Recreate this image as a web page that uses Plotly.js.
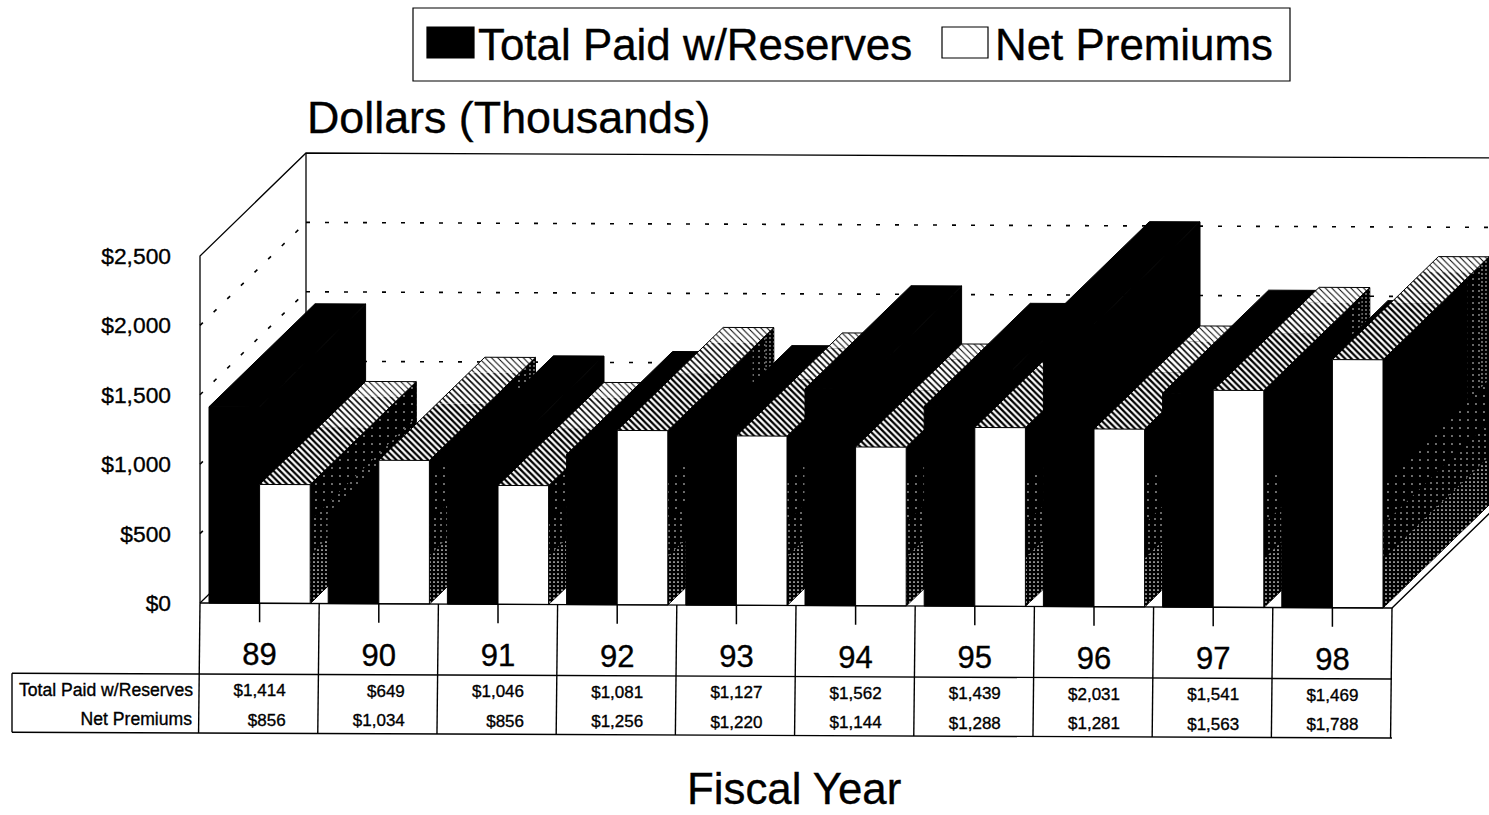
<!DOCTYPE html>
<html>
<head>
<meta charset="utf-8">
<script src="https://cdn.plot.ly/plotly-3.0.1.min.js"></script>
<style>
html,body{margin:0;padding:0;background:#fff;overflow:hidden}
/* slightly heavier lettering, as on a printed page */
.main-svg text{stroke:#000;stroke-width:.35px}
</style>
</head>
<body>
<div id="chart" style="width:1489px;height:815px"></div>
<script>
// Fiscal-year claims and premiums, in thousands of dollars
const fiscalYears = ['89','90','91','92','93','94','95','96','97','98'];
const totalPaid   = [1414,649,1046,1081,1127,1562,1439,2031,1541,1469];
const netPremiums = [856,1034,856,1256,1220,1144,1288,1281,1563,1788];
const yTicks      = [0,500,1000,1500,2000,2500];
const yTickLabels = ['$0','$500','$1,000','$1,500','$2,000','$2,500'];
const gridValues  = [500,1000,1500,2000];
const seriesNames = ['Total Paid w/Reserves','Net Premiums'];

const W = 1489, H = 815, FONT = '"Liberation Sans", Arial, sans-serif';
const ORIGIN_X = 200, ORIGIN_Y = 603;    // screen position of category 0, value 0
const PX_PER_CAT = 119.2, PX_PER_USD = 0.1388;
const DEPTH_X = 106 / PX_PER_CAT;        // oblique shift of the full floor depth
const DEPTH_Y = 103 / PX_PER_USD;
const TILT = 0.5 / PX_PER_USD;           // the base line falls slightly to the right
const BAR_MARGIN = 0.0755, BAR_W = 0.4245;
const TOP = 2500;

const usdFromPx = px => (ORIGIN_Y - px) / PX_PER_USD;
const catFromPx = px => (px - ORIGIN_X) / PX_PER_CAT;

// Oblique projection: category position, height in dollars, depth 0..1
const project = (cat, val, depth) => [cat + depth * DEPTH_X, val + depth * DEPTH_Y - cat * TILT];

const traces = [];
function path(points, width, dash) {
  const xs = [], ys = [];
  points.forEach(p => { if (p) { const q = project(...p); xs.push(q[0]); ys.push(q[1]); } else { xs.push(null); ys.push(null); } });
  traces.push({type:'scatter', mode:'lines', x:xs, y:ys, showlegend:false, hoverinfo:'skip',
    line:{color:'#000', width:width || 1.3, dash:dash || 'solid'}});
}
function face(points, fill, name, outline) {
  const closed = points.concat([points[0]]);
  const xs = [], ys = [];
  closed.forEach(p => { const q = project(...p); xs.push(q[0]); ys.push(q[1]); });
  const t = {type:'scatter', mode:'lines', x:xs, y:ys, fill:'toself', showlegend:false, name:name, hoverinfo:'skip',
    line:{color:'#000', width:outline ? 1 : 0}};
  if (fill.shape) { t.fillpattern = fill; t.fillcolor = fill.bgcolor; }
  else t.fillcolor = fill;
  traces.push(t);
}

// Walls, dotted grid and floor edges
const dots = '4px,15px';
gridValues.forEach(v => {
  path([[0,v,0],[0,v,1]], 1.6, dots);
  path([[0,v,1],[11,v,1]], 1.6, dots);
});
path([[0,0,0],[0,TOP,0],[0,TOP,1],[11,TOP,1]]);
path([[0,TOP,1],[0,0,1]]);
path([[0,0,0],[0,0,1]]);

// Shading tones of the extruded faces
const hatch = s => ({shape:'\\', fgcolor:'#000', bgcolor:'#fff', size:4.5, solidity:s});
const stipple = (size, s) => ({shape:'.', fgcolor:'#fff', bgcolor:'#000', size:size, solidity:s});

// Side face of a white bar: near black, with the stipple fading in towards floor and back edge
function whiteSide(x, v, name) {
  face([[x,0,0],[x,0,1],[x,v,1],[x,v,0]], '#000', name, true);
  const band = (d0, d1, a, b, tone) => face([[x,a,d0],[x,a,d1],[x,b,d1],[x,b,d0]], tone, name, false);
  band(0.8, 1, 0, v, stipple(6, 0.05));
  band(0.92, 1, 0, v, stipple(4, 0.1));
  band(0, 1, 0, Math.min(900, v), stipple(8, 0.03));
  band(0, 1, 0, Math.min(600, v), stipple(6, 0.05));
  band(0, 1, 0, Math.min(350, v), stipple(4, 0.14));
}
function whiteTop(x0, x1, v, name) {
  const band = (d0, d1, tone) => face([[x0,v,d0],[x0,v,d1],[x1,v,d1],[x1,v,d0]], hatch(tone), name, false);
  band(0, 0.55, 0.5);
  band(0.55, 0.85, 0.36);
  band(0.85, 1, 0.22);
  path([[x0,v,0],[x0,v,1],[x1,v,1],[x1,v,0]], 1);
}

// Bars are painted from left to right so nearer faces cover deeper ones
fiscalYears.forEach((year, i) => {
  const a0 = i + BAR_MARGIN, a1 = a0 + BAR_W, b1 = a1 + BAR_W;
  const paid = totalPaid[i], net = netPremiums[i];
  face([[a1,0,0],[a1,0,1],[a1,paid,1],[a1,paid,0]], '#000', seriesNames[0], true);
  face([[a0,paid,0],[a0,paid,1],[a1,paid,1],[a1,paid,0]], '#000', seriesNames[0], true);
  face([[a0,0,0],[a1,0,0],[a1,paid,0],[a0,paid,0]], '#000', seriesNames[0], true);
  whiteSide(b1, net, seriesNames[1]);
  whiteTop(a1, b1, net, seriesNames[1]);
  face([[a1,0,0],[b1,0,0],[b1,net,0],[a1,net,0]], '#fff', seriesNames[1], true);
});

// Floor edges in front of the bars
path([[0,0,0],[fiscalYears.length,0,0],[fiscalYears.length,0,1]]);

// Category ticks and the data table grid below the floor
const n = fiscalYears.length;
const tickEnd = usdFromPx(622), rowTop = usdFromPx(674), rowBottom = usdFromPx(733);
const labelLeft = catFromPx(12);
const tickPts = [];
fiscalYears.forEach((y, i) => { tickPts.push([i + 0.5, 0, 0], [i + 0.5, tickEnd, 0], null); });
path(tickPts, 1.5);
const tablePts = [];
for (let i = 0; i <= n; i++) tablePts.push([i, 0, 0], [i - 0.012, rowBottom, 0], null);
path(tablePts, 1.4);
path([[labelLeft,rowTop,0],[n,rowTop,0],null,[labelLeft,rowBottom,0],[n,rowBottom,0],null,[labelLeft,rowTop,0],[labelLeft,rowBottom,0]], 1.4);

function textRow(cats, val, labels, size, position) {
  const xs = [], ys = [];
  cats.forEach(c => { const q = project(c, val, 0); xs.push(q[0]); ys.push(q[1]); });
  traces.push({type:'scatter', mode:'text', x:xs, y:ys, text:labels, textposition:position,
    textfont:{family:FONT, size:size, color:'#000'}, showlegend:false, hoverinfo:'skip', cliponaxis:false});
}
const usd = v => '$' + v.toLocaleString('en-US');
const centres = fiscalYears.map((y, i) => i + 0.5);
const cellAnchor = centres.map(c => c + 26 / PX_PER_CAT);
textRow(centres, usdFromPx(657), fiscalYears, 31, 'middle center');
textRow(cellAnchor, usdFromPx(691.5), totalPaid.map(usd), 17, 'middle left');
textRow(cellAnchor, usdFromPx(721), netPremiums.map(usd), 17, 'middle left');
textRow([catFromPx(193)], usdFromPx(692), [seriesNames[0]], 17.6, 'middle left');
textRow([catFromPx(192)], usdFromPx(721), [seriesNames[1]], 17.6, 'middle left');

// Legend panel, title and horizontal caption are placed on the page
const px = x => x / W, py = y => 1 - y / H;
const pageRect = (x0, y0, x1, y1, fill) => ({type:'rect', xref:'paper', yref:'paper',
  x0:px(x0), x1:px(x1), y0:py(y0), y1:py(y1), fillcolor:fill, line:{color:'#000', width:1.2}});
const pageText = (text, x, y, size, anchor) => ({text, xref:'paper', yref:'paper', x:px(x), y:py(y),
  xanchor:anchor, yanchor:'middle', showarrow:false, borderpad:0, font:{family:FONT, size, color:'#000'}});

const layout = {
  width:W, height:H, autosize:false,
  margin:{l:0, r:0, t:0, b:0, pad:0},
  paper_bgcolor:'#fff', plot_bgcolor:'#fff', showlegend:false,
  title:{text:'Dollars (Thousands)', font:{family:FONT, size:44.8, color:'#000'},
    xref:'paper', yref:'container', x:px(307), xanchor:'left', y:py(117), yanchor:'middle', pad:{t:0,b:0,l:0,r:0}},
  xaxis:{range:[catFromPx(0), catFromPx(W)], visible:false, fixedrange:true},
  yaxis:{range:[usdFromPx(H), usdFromPx(0)], anchor:'free', position:px(171), side:'left',
    tickmode:'array', tickvals:yTicks, ticktext:yTickLabels, ticks:'', showgrid:false, zeroline:false, showline:false,
    tickfont:{family:FONT, size:22.8, color:'#000'}, fixedrange:true},
  shapes:[pageRect(413,8,1290,81,'#fff'), pageRect(427,27,474,58,'#000'), pageRect(942,27,988,58,'#fff')],
  annotations:[
    pageText(seriesNames[0], 477, 44, 43.9, 'left'),
    pageText(seriesNames[1], 994, 44, 43.9, 'left'),
    pageText('Fiscal Year', 794.5, 788, 43.8, 'center')
  ]
};
Plotly.newPlot('chart', traces, layout, {displayModeBar:false, staticPlot:true});
</script>
</body>
</html>
